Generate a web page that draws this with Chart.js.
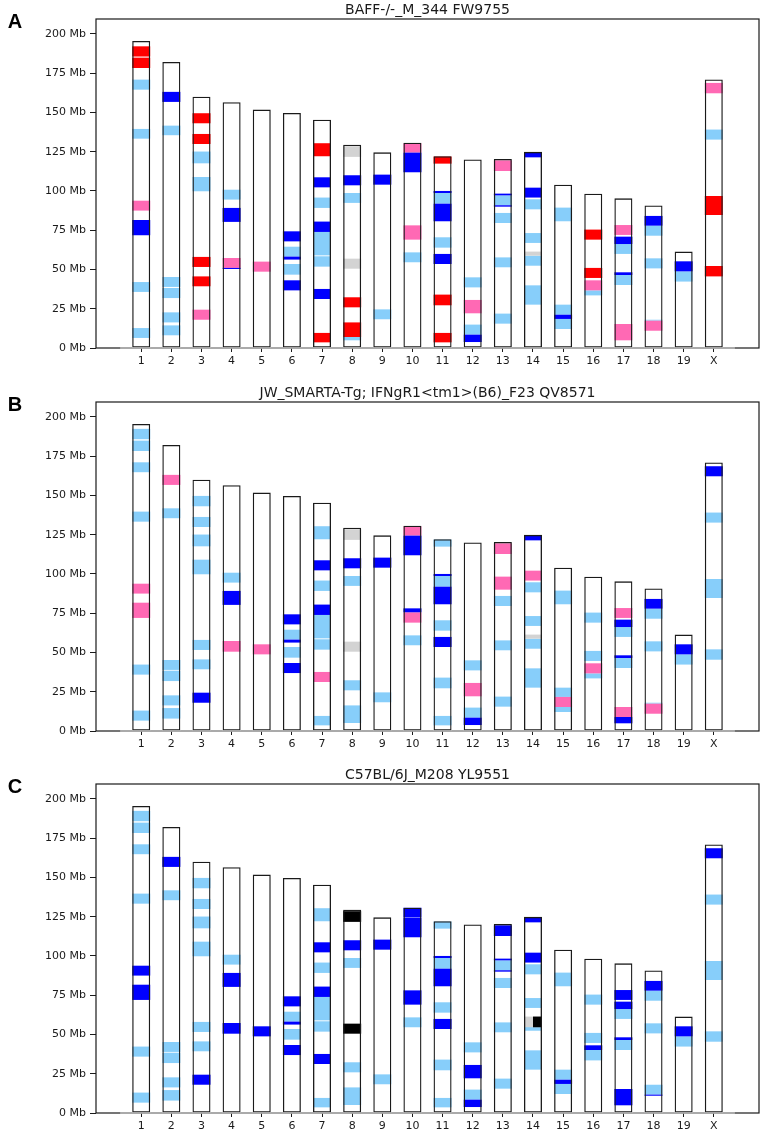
<!DOCTYPE html>
<html>
<head>
<meta charset="utf-8">
<script src="https://cdn.jsdelivr.net/npm/chart.js@4.4.1/dist/chart.umd.min.js"></script>
<style>
  body { margin: 0; background: #fff; overflow: hidden; }
  .panel { position: absolute; left: 0; width: 762px; height: 382px; }
</style>
</head>
<body>
<div class="panel" style="top:0"><canvas id="chartA" width="762" height="382"></canvas></div>
<div class="panel" style="top:383px"><canvas id="chartB" width="762" height="382"></canvas></div>
<div class="panel" style="top:765px"><canvas id="chartC" width="762" height="382"></canvas></div>
<script>
const chromLabels = ['1', '2', '3', '4', '5', '6', '7', '8', '9', '10', '11', '12', '13', '14', '15', '16', '17', '18', '19', 'X'];
const chromLengths = [195.5, 182.1, 160.0, 156.5, 151.8, 149.7, 145.4, 129.4, 124.6, 130.7, 122.1, 120.1, 120.4, 124.9, 104.0, 98.2, 95.3, 90.7, 61.4, 171.0];
const yTicks = [0, 25, 50, 75, 100, 125, 150, 175, 200];
const panelLetters = ['A', 'B', 'C'];
const panelTitles = [
    'BAFF-/-_M_344 FW9755',
    'JW_SMARTA-Tg; IFNgR1<tm1>(B6)_F23 QV8571',
    'C57BL/6J_M208 YL9551'
];

// [chromosome, start Mb, end Mb, call]  R red, P pink, B blue, L light blue, G grey, K black
const bandsA = [
    ['1', 185.6, 192.1, 'R'], ['1', 178.3, 184.9, 'R'], ['1', 164.5, 170.9, 'L'], ['1', 133.3, 139.5, 'L'],
    ['1', 87.5, 93.8, 'P'], ['1', 71.8, 81.5, 'B'], ['1', 35.7, 42.0, 'L'], ['1', 6.4, 12.7, 'L'],
    ['2', 156.7, 163.1, 'B'], ['2', 135.5, 141.6, 'L'], ['2', 38.9, 45.2, 'L'], ['2', 31.8, 38.2, 'L'],
    ['2', 16.3, 22.7, 'L'], ['2', 8.1, 14.4, 'L'],
    ['3', 143.1, 149.5, 'R'], ['3', 129.9, 136.3, 'R'], ['3', 117.6, 125.1, 'L'], ['3', 99.8, 108.9, 'L'],
    ['3', 51.6, 58.0, 'R'], ['3', 39.3, 45.6, 'R'], ['3', 18.0, 24.4, 'P'],
    ['4', 94.5, 100.8, 'L'], ['4', 80.3, 89.2, 'B'], ['4', 51.0, 57.3, 'P'], ['4', 50.3, 51.0, 'B'],
    ['5', 48.6, 55.0, 'P'],
    ['6', 67.9, 74.3, 'B'], ['6', 58.2, 64.5, 'L'], ['6', 56.3, 58.2, 'B'], ['6', 46.7, 53.5, 'L'], ['6', 36.7, 43.1, 'B'],
    ['7', 122.1, 130.4, 'R'], ['7', 102.3, 108.7, 'B'], ['7', 89.2, 95.8, 'L'], ['7', 73.9, 80.5, 'B'],
    ['7', 59.0, 73.9, 'L'], ['7', 51.8, 58.4, 'L'], ['7', 31.2, 37.6, 'B'], ['7', 3.6, 9.6, 'R'],
    ['8', 121.7, 128.5, 'G'], ['8', 103.6, 110.0, 'B'], ['8', 92.4, 98.7, 'L'], ['8', 50.5, 56.9, 'G'],
    ['8', 25.9, 32.3, 'R'], ['8', 7.0, 16.3, 'R'], ['8', 4.9, 7.0, 'L'],
    ['9', 104.0, 110.4, 'B'], ['9', 18.3, 24.6, 'L'],
    ['10', 124.4, 130.4, 'P'], ['10', 111.9, 124.4, 'B'], ['10', 69.0, 78.1, 'P'], ['10', 54.6, 60.9, 'L'],
    ['11', 117.4, 121.9, 'R'], ['11', 98.7, 100.0, 'B'], ['11', 91.9, 98.7, 'L'], ['11', 80.7, 91.9, 'B'],
    ['11', 63.9, 70.5, 'L'], ['11', 53.5, 59.9, 'B'], ['11', 27.2, 34.0, 'R'], ['11', 3.6, 9.6, 'R'],
    ['12', 38.6, 45.0, 'L'], ['12', 22.1, 30.6, 'P'], ['12', 8.5, 14.9, 'L'], ['12', 3.8, 8.5, 'B'],
    ['13', 112.7, 119.5, 'P'], ['13', 97.2, 98.3, 'B'], ['13', 90.9, 97.2, 'L'], ['13', 90.0, 90.9, 'B'],
    ['13', 79.6, 86.0, 'L'], ['13', 51.4, 57.7, 'L'], ['13', 15.5, 21.9, 'L'],
    ['14', 121.4, 124.8, 'B'], ['14', 95.8, 102.1, 'B'], ['14', 88.3, 94.7, 'L'], ['14', 66.9, 73.2, 'L'],
    ['14', 58.8, 61.4, 'G'], ['14', 52.4, 58.8, 'L'], ['14', 27.6, 39.9, 'L'],
    ['15', 80.7, 89.4, 'L'], ['15', 21.2, 27.6, 'L'], ['15', 18.5, 21.2, 'B'], ['15', 12.1, 18.5, 'L'],
    ['16', 69.0, 75.4, 'R'], ['16', 44.6, 51.0, 'R'], ['16', 36.7, 43.1, 'P'], ['16', 33.5, 36.7, 'L'],
    ['17', 72.0, 78.3, 'P'], ['17', 66.2, 70.9, 'B'], ['17', 59.9, 66.2, 'L'], ['17', 46.5, 48.2, 'B'],
    ['17', 40.1, 46.5, 'L'], ['17', 4.9, 15.3, 'P'],
    ['18', 77.9, 84.1, 'B'], ['18', 71.5, 77.9, 'L'], ['18', 50.7, 57.1, 'L'], ['18', 17.4, 18.0, 'L'], ['18', 11.0, 17.4, 'P'],
    ['19', 48.8, 55.2, 'B'], ['19', 42.3, 48.8, 'L'],
    ['X', 162.2, 168.8, 'P'], ['X', 132.7, 139.1, 'L'], ['X', 84.7, 96.8, 'R'], ['X', 45.6, 52.2, 'R']
];

const bandsB = [
    ['1', 185.8, 192.4, 'L'], ['1', 178.3, 184.9, 'L'], ['1', 164.8, 171.1, 'L'], ['1', 133.3, 139.7, 'L'],
    ['1', 87.5, 93.8, 'P'], ['1', 72.0, 81.7, 'P'], ['1', 35.9, 42.3, 'L'], ['1', 6.6, 13.0, 'L'],
    ['2', 156.7, 163.1, 'P'], ['2', 135.5, 141.8, 'L'], ['2', 38.9, 45.2, 'L'], ['2', 31.8, 38.4, 'L'],
    ['2', 16.3, 22.7, 'L'], ['2', 7.9, 14.6, 'L'],
    ['3', 143.1, 149.7, 'L'], ['3', 129.9, 136.3, 'L'], ['3', 117.6, 125.1, 'L'], ['3', 99.8, 109.1, 'L'],
    ['3', 51.6, 58.0, 'L'], ['3', 39.3, 45.6, 'L'], ['3', 18.0, 24.4, 'B'],
    ['4', 94.5, 100.8, 'L'], ['4', 80.3, 89.2, 'B'], ['4', 50.5, 57.3, 'P'],
    ['5', 48.8, 55.2, 'P'],
    ['6', 67.9, 74.3, 'B'], ['6', 58.2, 64.5, 'L'], ['6', 56.3, 58.2, 'B'], ['6', 46.7, 53.5, 'L'], ['6', 36.9, 43.3, 'B'],
    ['7', 122.1, 130.4, 'L'], ['7', 102.3, 108.7, 'B'], ['7', 89.2, 95.8, 'L'], ['7', 73.9, 80.5, 'B'],
    ['7', 59.0, 73.9, 'L'], ['7', 51.8, 58.4, 'L'], ['7', 31.2, 37.6, 'P'], ['7', 3.6, 9.6, 'L'],
    ['8', 121.7, 128.5, 'G'], ['8', 103.6, 110.0, 'B'], ['8', 92.4, 98.7, 'L'], ['8', 50.5, 56.9, 'G'],
    ['8', 25.9, 32.3, 'L'], ['8', 5.1, 16.3, 'L'],
    ['9', 104.0, 110.4, 'B'], ['9', 18.3, 24.6, 'L'],
    ['10', 124.4, 130.4, 'P'], ['10', 111.9, 124.4, 'B'], ['10', 75.6, 78.1, 'B'], ['10', 69.0, 75.6, 'P'], ['10', 54.6, 60.9, 'L'],
    ['11', 117.4, 121.9, 'L'], ['11', 98.7, 100.0, 'B'], ['11', 91.9, 98.7, 'L'], ['11', 80.7, 91.9, 'B'],
    ['11', 63.9, 70.5, 'L'], ['11', 53.5, 59.9, 'B'], ['11', 27.2, 34.0, 'L'], ['11', 3.6, 9.6, 'L'],
    ['12', 38.6, 45.0, 'L'], ['12', 22.1, 30.6, 'P'], ['12', 8.5, 14.9, 'L'], ['12', 3.8, 8.5, 'B'],
    ['13', 112.7, 119.5, 'P'], ['13', 90.0, 98.3, 'P'], ['13', 79.6, 86.0, 'L'], ['13', 51.4, 57.7, 'L'], ['13', 15.5, 21.9, 'L'],
    ['14', 121.4, 124.8, 'B'], ['14', 95.8, 102.1, 'P'], ['14', 88.3, 94.7, 'L'], ['14', 66.9, 73.2, 'L'],
    ['14', 58.8, 61.4, 'G'], ['14', 52.4, 58.8, 'L'], ['14', 27.6, 39.9, 'L'],
    ['15', 80.7, 89.4, 'L'], ['15', 21.7, 27.6, 'L'], ['15', 15.3, 21.7, 'P'], ['15', 12.1, 15.3, 'L'],
    ['16', 69.0, 75.4, 'L'], ['16', 44.6, 51.0, 'L'], ['16', 36.7, 43.1, 'P'], ['16', 33.5, 36.7, 'L'],
    ['17', 72.0, 78.3, 'P'], ['17', 66.2, 70.9, 'B'], ['17', 59.9, 66.2, 'L'], ['17', 46.5, 48.2, 'B'],
    ['17', 40.1, 46.5, 'L'], ['17', 8.9, 15.3, 'P'], ['17', 4.9, 8.9, 'B'],
    ['18', 77.9, 84.1, 'B'], ['18', 71.5, 77.9, 'L'], ['18', 50.7, 57.1, 'L'], ['18', 17.4, 18.0, 'L'], ['18', 11.0, 17.4, 'P'],
    ['19', 48.8, 55.2, 'B'], ['19', 42.3, 48.8, 'L'],
    ['X', 162.2, 168.6, 'B'], ['X', 132.7, 139.1, 'L'], ['X', 84.7, 96.8, 'L'], ['X', 45.4, 52.0, 'L']
];

const bandsC = [
    ['1', 185.8, 192.4, 'L'], ['1', 178.3, 184.9, 'L'], ['1', 164.8, 171.1, 'L'], ['1', 133.3, 139.7, 'L'],
    ['1', 87.5, 93.8, 'B'], ['1', 72.0, 81.7, 'B'], ['1', 35.9, 42.3, 'L'], ['1', 6.6, 13.0, 'L'],
    ['2', 156.7, 163.1, 'B'], ['2', 135.5, 141.8, 'L'], ['2', 38.9, 45.2, 'L'], ['2', 31.8, 38.4, 'L'],
    ['2', 16.3, 22.7, 'L'], ['2', 7.9, 14.6, 'L'],
    ['3', 143.1, 149.7, 'L'], ['3', 129.9, 136.3, 'L'], ['3', 117.6, 125.1, 'L'], ['3', 99.8, 109.1, 'L'],
    ['3', 51.6, 58.0, 'L'], ['3', 39.3, 45.6, 'L'], ['3', 18.0, 24.4, 'B'],
    ['4', 94.5, 100.8, 'L'], ['4', 80.3, 89.2, 'B'], ['4', 50.5, 57.3, 'B'],
    ['5', 48.8, 55.2, 'B'],
    ['6', 67.9, 74.3, 'B'], ['6', 58.2, 64.5, 'L'], ['6', 56.3, 58.2, 'B'], ['6', 46.7, 53.5, 'L'], ['6', 36.9, 43.3, 'B'],
    ['7', 122.1, 130.4, 'L'], ['7', 102.3, 108.7, 'B'], ['7', 89.2, 95.8, 'L'], ['7', 73.9, 80.5, 'B'],
    ['7', 59.0, 73.9, 'L'], ['7', 51.8, 58.4, 'L'], ['7', 31.2, 37.6, 'B'], ['7', 3.6, 9.6, 'L'],
    ['8', 128.5, 129.4, 'G'], ['8', 121.7, 128.5, 'K'], ['8', 103.6, 110.0, 'B'], ['8', 92.4, 98.7, 'L'],
    ['8', 50.5, 56.9, 'K'], ['8', 25.9, 32.3, 'L'], ['8', 5.1, 16.3, 'L'],
    ['9', 104.0, 110.4, 'B'], ['9', 18.3, 24.6, 'L'],
    ['10', 124.6, 130.7, 'B'], ['10', 111.9, 124.4, 'B'], ['10', 69.0, 78.1, 'B'], ['10', 54.6, 60.9, 'L'],
    ['11', 117.4, 121.9, 'L'], ['11', 98.7, 100.0, 'B'], ['11', 91.9, 98.7, 'L'], ['11', 80.7, 91.9, 'B'],
    ['11', 63.9, 70.5, 'L'], ['11', 53.5, 59.9, 'B'], ['11', 27.2, 34.0, 'L'], ['11', 3.6, 9.6, 'L'],
    ['12', 38.6, 45.0, 'L'], ['12', 22.1, 30.6, 'B'], ['12', 8.5, 14.9, 'L'], ['12', 3.8, 8.5, 'B'],
    ['13', 119.5, 120.4, 'G'], ['13', 112.7, 119.5, 'B'], ['13', 97.2, 98.3, 'B'], ['13', 90.9, 97.2, 'L'],
    ['13', 90.0, 90.9, 'B'], ['13', 79.6, 86.0, 'L'], ['13', 51.4, 57.7, 'L'], ['13', 15.5, 21.9, 'L'],
    ['14', 121.4, 124.8, 'B'], ['14', 95.8, 102.1, 'B'], ['14', 88.3, 94.7, 'L'], ['14', 66.9, 73.2, 'L'],
    ['14', 54.6, 61.4, 'G'], ['14', 52.4, 58.8, 'L'], ['14', 27.6, 39.9, 'L'],
    ['15', 80.7, 89.4, 'L'], ['15', 21.2, 27.6, 'L'], ['15', 18.5, 21.2, 'B'], ['15', 12.1, 18.5, 'L'],
    ['16', 69.0, 75.4, 'L'], ['16', 44.6, 51.0, 'L'], ['16', 40.1, 43.1, 'B'], ['16', 33.5, 40.1, 'L'],
    ['17', 72.0, 78.3, 'B'], ['17', 66.2, 70.9, 'B'], ['17', 59.9, 66.2, 'L'], ['17', 46.5, 48.2, 'B'],
    ['17', 40.1, 46.5, 'L'], ['17', 4.9, 15.3, 'B'],
    ['18', 77.9, 84.1, 'B'], ['18', 71.5, 77.9, 'L'], ['18', 50.7, 57.1, 'L'], ['18', 11.7, 18.0, 'L'], ['18', 11.0, 11.7, 'B'],
    ['19', 48.8, 55.2, 'B'], ['19', 42.3, 48.8, 'L'],
    ['X', 162.2, 168.6, 'B'], ['X', 132.7, 139.1, 'L'], ['X', 84.7, 96.8, 'L'], ['X', 45.4, 52.0, 'L']
];

// calls that only cover the right half of a chromosome
const halfBandsC = [['14', 54.6, 61.4, 'K']];

const CALL_COLORS = { L: '#87cefa', G: '#d3d3d3', P: '#ff69b4', R: '#ff0000', B: '#0000ff', K: '#000000' };
const CALL_ORDER = ['L', 'G', 'P', 'R', 'B', 'K'];
const BAR_PX = 18;
const INK = '#1a1a1a';
const FONT = '"DejaVu Sans", Verdana, sans-serif';

const chromIdx = (c) => chromLabels.indexOf(c);

const panelDecor = {
    id: 'panelDecor',
    beforeDatasetsDraw(chart) {
        const { ctx, chartArea: a, scales: { x, y } } = chart;
        ctx.save();
        ctx.strokeStyle = INK;
        ctx.lineWidth = 1.2;
        ctx.strokeRect(a.left, a.top, a.right - a.left, a.bottom - a.top);
        // grey baseline across the chromosome range
        ctx.strokeStyle = '#bdbdbd';
        ctx.lineWidth = 1.5;
        ctx.beginPath();
        ctx.moveTo(x.getPixelForValue(-0.7), y.getPixelForValue(0));
        ctx.lineTo(x.getPixelForValue(chromLabels.length - 0.3), y.getPixelForValue(0));
        ctx.stroke();
        ctx.restore();
    },
    afterDraw(chart) {
        const { ctx, chartArea: a } = chart;
        const opts = chart.options.plugins.panelDecor;
        ctx.save();
        ctx.fillStyle = INK;
        ctx.textAlign = 'center';
        ctx.textBaseline = 'alphabetic';
        ctx.font = `14px ${FONT}`;
        ctx.fillText(opts.title, (a.left + a.right) / 2, 14);
        ctx.fillStyle = '#000';
        ctx.font = 'bold 20px "Liberation Sans", Arial, sans-serif';
        ctx.fillText(opts.letter, 15, 28);
        ctx.restore();
    }
};

function buildDatasets(bands, halfBands) {
    const datasets = [];
    datasets.push({
        data: chromLengths.map((len, i) => ({ x: i, y: [0, len] })),
        backgroundColor: '#ffffff',
        borderWidth: 0,
        order: 20
    });
    CALL_ORDER.forEach((call, k) => {
        const pts = bands.filter(b => b[3] === call).map(b => ({ x: chromIdx(b[0]), y: [b[1], b[2]] }));
        if (!pts.length) return;
        datasets.push({ data: pts, backgroundColor: CALL_COLORS[call], borderWidth: 0, order: 15 - k });
    });
    (halfBands || []).forEach(b => {
        datasets.push({
            data: [{ x: chromIdx(b[0]) + BAR_PX / 4 / 30.14, y: [b[1], b[2]] }],
            backgroundColor: CALL_COLORS[b[3]],
            borderWidth: 0,
            barThickness: BAR_PX / 2,
            order: 5
        });
    });
    datasets.push({
        data: chromLengths.map((len, i) => ({ x: i, y: [0, len] })),
        backgroundColor: 'rgba(0,0,0,0)',
        borderColor: INK,
        borderWidth: 1.3,
        borderSkipped: false,
        order: 1
    });
    return datasets;
}

function makePanel(canvasId, p, bands, halfBands) {
    return new Chart(document.getElementById(canvasId), {
        type: 'bar',
        data: { datasets: buildDatasets(bands, halfBands) },
        plugins: [panelDecor],
        options: {
            responsive: false,
            animation: false,
            layout: { padding: { top: 19, right: 3, left: 0, bottom: 0 } },
            datasets: { bar: { grouped: false, barThickness: BAR_PX, inflateAmount: 0 } },
            plugins: {
                legend: { display: false },
                tooltip: { enabled: false },
                panelDecor: { title: panelTitles[p], letter: panelLetters[p] }
            },
            scales: {
                x: {
                    type: 'linear',
                    offset: false,
                    min: -1.5,
                    max: 20.5,
                    afterBuildTicks: (scale) => { scale.ticks = chromLabels.map((_, i) => ({ value: i })); },
                    afterFit: (scale) => { scale.height = 34; },
                    border: { display: false },
                    grid: { display: true, drawOnChartArea: false, offset: false, tickLength: 4, color: INK, tickWidth: 1 },
                    ticks: {
                        autoSkip: false,
                        maxRotation: 0,
                        padding: 3,
                        color: INK,
                        font: { family: FONT, size: 11 },
                        callback: (v) => chromLabels[Math.round(v)]
                    }
                },
                y: {
                    min: 0,
                    max: 209.5,
                    afterBuildTicks: (scale) => { scale.ticks = yTicks.map(v => ({ value: v })); },
                    afterFit: (scale) => { scale.width = 96; },
                    border: { display: false },
                    grid: { display: true, drawOnChartArea: false, tickLength: 6, color: INK, tickWidth: 1 },
                    ticks: {
                        padding: 4,
                        color: INK,
                        font: { family: FONT, size: 11 },
                        callback: (v) => `${v} Mb`
                    }
                }
            }
        }
    });
}

makePanel('chartA', 0, bandsA);
makePanel('chartB', 1, bandsB);
makePanel('chartC', 2, bandsC, halfBandsC);
</script>
</body>
</html>
